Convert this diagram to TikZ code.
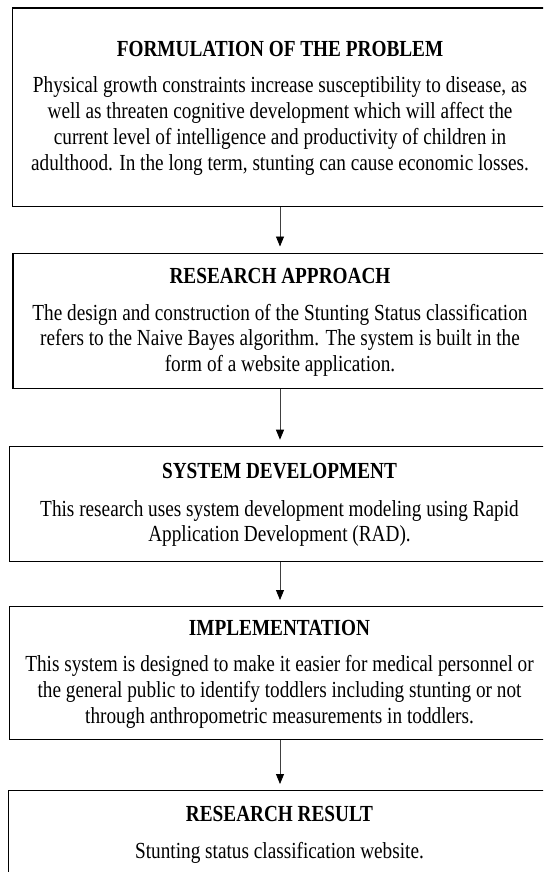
\documentclass[tikz,border=0pt]{standalone}
\usepackage{fontspec}
\setmainfont{Liberation Serif}[FakeStretch=0.837]
\usetikzlibrary{arrows.meta}
\newcommand{\bodylines}[1]{\begin{tabular}[t]{@{}c@{}}#1\end{tabular}}
\begin{document}
\begin{tikzpicture}[x=1pt,y=-1pt,
  box/.style={draw=black,line width=1.3pt,rectangle,inner sep=0pt,anchor=north west},
  ttl/.style={font=\fontsize{23}{25.9}\selectfont\bfseries,anchor=base,inner sep=0pt},
  bodytext/.style={font=\fontsize{23}{25.9}\selectfont,anchor=base,inner sep=0pt},
  conn/.style={draw=black!75,line width=0.8pt,-{Triangle[width=8pt,length=10pt,color=black]}}]
\useasboundingbox (0,0) rectangle (543,872);
\clip (0,0) rectangle (543,872);
\coordinate (ax) at (280,0);
% boxes
\node[box,minimum width=536pt,minimum height=198.4pt] (b1) at (12,7.3) {};
\node[box,minimum width=536pt,minimum height=135.2pt] (b2) at (12.3,252.5) {};
\node[box,minimum width=540pt,minimum height=115pt] (b3) at (8.5,445.7) {};
\node[box,minimum width=540pt,minimum height=133pt] (b4) at (8.5,606) {};
\node[box,minimum width=541pt,minimum height=120pt] (b5) at (7.5,790) {};
% texts
\node[ttl] (t1) at (280,56.5) {FORMULATION OF THE PROBLEM};
\node[bodytext] (d1) at (280,92.5) {\bodylines{Physical growth constraints increase susceptibility to disease, as\\well as threaten cognitive development which will affect the\\current level of intelligence and productivity of children in\\adulthood. In the long term, stunting can cause economic losses.}};
\node[ttl] (t2) at (280,283.3) {RESEARCH APPROACH};
\node[bodytext] (d2) at (280,320) {\bodylines{The design and construction of the Stunting Status classification\\refers to the Naive Bayes algorithm. The system is built in the\\form of a website application.}};
\node[ttl] (t3) at (279.5,478.3) {SYSTEM DEVELOPMENT};
\node[bodytext] (d3) at (279.5,516) {\bodylines{This research uses system development modeling using Rapid\\Application Development (RAD).}};
\node[ttl] (t4) at (279.5,635) {IMPLEMENTATION};
\node[bodytext] (d4) at (279.5,671.7) {\bodylines{This system is designed to make it easier for medical personnel or\\the general public to identify toddlers including stunting or not\\through anthropometric measurements in toddlers.}};
\node[ttl] (t5) at (279.5,821.7) {RESEARCH RESULT};
\node[bodytext] (d5) at (279.5,858.3) {\bodylines{Stunting status classification website.}};
% connectors
\draw[conn] (b1.south -| ax) -- ([yshift=6pt]b2.north -| ax);
\draw[conn] (b2.south -| ax) -- ([yshift=6pt]b3.north -| ax);
\draw[conn] (b3.south -| ax) -- ([yshift=6pt]b4.north -| ax);
\draw[conn] (b4.south -| ax) -- ([yshift=6pt]b5.north -| ax);
\end{tikzpicture}
\end{document}
